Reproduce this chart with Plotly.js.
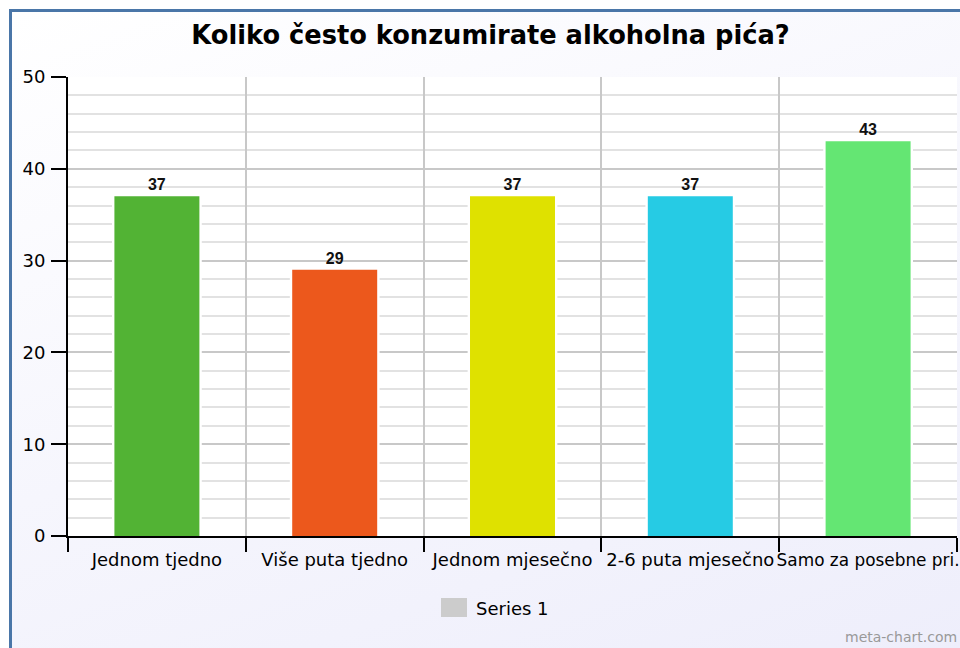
<!DOCTYPE html>
<html>
<head>
<meta charset="utf-8">
<script src="https://cdn.plot.ly/plotly-3.0.1.min.js"></script>
<style>
  html, body { margin: 0; padding: 0; width: 960px; height: 648px; overflow: hidden; background: #ffffff; }
  #frame { position: absolute; left: 9px; top: 9px; width: 960px; height: 640px;
           border-left: 3px solid #4a76a8; border-top: 3px solid #4a76a8; border-bottom: 1px solid #d0d4ea;
           background: linear-gradient(160deg, #ffffff 0%, #f6f6fd 50%, #eeeefb 100%); }
  #chart { position: absolute; left: 0; top: 0; width: 960px; height: 648px; }
</style>
</head>
<body>
<div id="frame"></div>
<div id="chart"></div>
<script>
const categories = ["Jednom tjedno", "Više puta tjedno", "Jednom mjesečno", "2-6 puta mjesečno", "Samo za posebne pri."];
const values = [37, 29, 37, 37, 43];
const barColors = ["#52b334", "#ec581c", "#dfe100", "#26cbe4", "#64e673"];
const seriesName = "Series 1";
const chartTitle = "Koliko često konzumirate alkoholna pića?";

// tick labels: the last (long) one slightly smaller so it stays inside the page
const tickLabels = categories.map((c, i) =>
  i === categories.length - 1 ? "<span style='font-size:16.9px'>" + c + "</span>" : c);

// white halo behind each bar (interrupts the grid lines like the original)
const halo = {
  type: "bar",
  x: categories,
  y: values,
  width: 0.505,
  marker: { color: "#ffffff", line: { width: 0 } },
  showlegend: false,
  hoverinfo: "skip"
};

const trace = {
  type: "bar",
  x: categories,
  y: values,
  name: seriesName,
  width: 0.478,
  marker: { color: barColors, line: { width: 0 } },
  text: values.map(String),
  textposition: "outside",
  cliponaxis: false,
  textfont: { family: "Liberation Sans, Arial, sans-serif", size: 16, color: "#111111", weight: "bold" },
  showlegend: false,
  hoverinfo: "x+y"
};

const layout = {
  width: 960, height: 648,
  barmode: "overlay",
  paper_bgcolor: "rgba(0,0,0,0)",
  plot_bgcolor: "#ffffff",
  margin: { l: 68, r: 3, t: 77, b: 112 },
  title: {
    text: "<b>" + chartTitle + "</b>",
    font: { family: "DejaVu Sans, Verdana, sans-serif", size: 25.7, color: "#000000" },
    x: 0.511, xanchor: "center", y: 0.946, yanchor: "middle"
  },
  xaxis: {
    type: "category",
    tickson: "boundaries",
    tickmode: "array",
    tickvals: categories,
    ticktext: tickLabels,
    ticks: "outside", ticklen: 14, tickwidth: 1.5, tickcolor: "#000000",
    ticklabelstandoff: 6,
    showgrid: true, gridcolor: "#c8c8c8", gridwidth: 1.5,
    showline: true, linecolor: "#000000", linewidth: 2,
    tickangle: 0,
    tickfont: { family: "DejaVu Sans, Verdana, sans-serif", size: 18, color: "#000000" },
    fixedrange: true
  },
  yaxis: {
    range: [0, 50], dtick: 10, tick0: 0,
    ticks: "outside", ticklen: 15, tickwidth: 1.5, tickcolor: "#000000",
    ticklabelstandoff: 2,
    showgrid: true, gridcolor: "#c8c8c8", gridwidth: 1.5,
    minor: { dtick: 2, showgrid: true, gridcolor: "#e2e2e2", gridwidth: 1.5, ticks: "" },
    showline: true, linecolor: "#000000", linewidth: 2,
    zeroline: false,
    tickfont: { family: "DejaVu Sans, Verdana, sans-serif", size: 18, color: "#000000" },
    fixedrange: true
  },
  shapes: [
    { type: "rect", xref: "paper", yref: "paper", x0: (441 - 68) / 889, x1: (467 - 68) / 889,
      y0: (536 - 617) / 459, y1: (536 - 598) / 459, fillcolor: "#cccccc", line: { width: 0 } }
  ],
  annotations: [
    { xref: "paper", yref: "paper", x: (474 - 68) / 889, y: (536 - 608) / 459, xanchor: "left", yanchor: "middle",
      text: seriesName, showarrow: false,
      font: { family: "DejaVu Sans, Verdana, sans-serif", size: 18, color: "#000000" } },
    { xref: "paper", yref: "paper", x: (959 - 68) / 889, y: (536 - 637) / 459, xanchor: "right", yanchor: "middle",
      text: "meta-chart.com", showarrow: false,
      font: { family: "DejaVu Sans, Verdana, sans-serif", size: 14, color: "#999999" } }
  ]
};

Plotly.newPlot("chart", [halo, trace], layout, { displayModeBar: false, responsive: false });
</script>
</body>
</html>
